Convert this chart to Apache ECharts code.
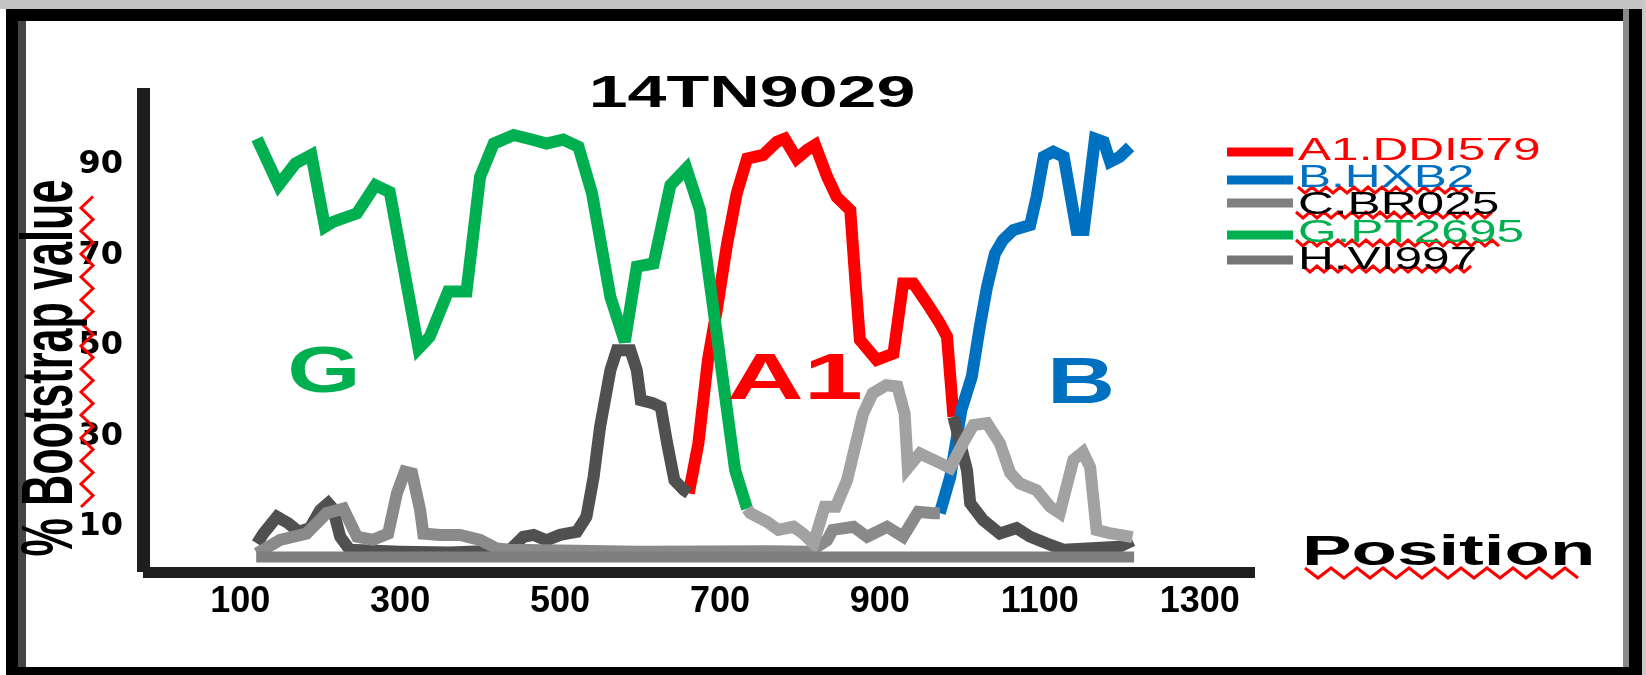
<!DOCTYPE html>
<html><head><meta charset="utf-8">
<script src="https://cdn.jsdelivr.net/npm/echarts@6/dist/echarts.min.js"></script>
<style>html,body{margin:0;padding:0;background:#fff}#c{width:1646px;height:675px}</style>
</head><body><div id="c"></div>
<script>
// ---- data (position along genome, % bootstrap value) ----
const chartTitle = '14TN9029';
const xAxisName = 'Position';
const yAxisName = '% Bootstrap value';
const xTickValues = [100, 300, 500, 700, 900, 1100, 1300];
const yTickValues = [10, 30, 50, 70, 90];
const legendNames = ['A1.DDI579', 'B.HXB2', 'C.BR025', 'G.PT2695', 'H.VI997'];
const regionLabels = ['G', 'A1', 'B'];

const a1Values = [[661,17.4],[673,28.4],[685,46.9],[696,57.9],[709,72.6],[721,83.7],[734,91.4],[754,92.2],[771,95.1],[781,95.8],[796,91.4],[809,93.3],[819,94.4],[834,87.4],[846,82.9],[863,80],[869,65.3],[875,51.3],[896,46.9],[917,48.3],[929,63.8],[942,63.8],[959,59.4],[975,55],[984,52],[988,43.2],[992,34.3]];
const bValues = [[975,13],[988,21],[1002,35.8],[1015,43.2],[1025,54.2],[1034,63],[1044,70.4],[1054,73.4],[1067,75.6],[1088,76.7],[1096,82.9],[1105,91.8],[1117,92.9],[1130,91.8],[1146,75.6],[1155,75.6],[1169,95.8],[1180,95.1],[1188,90.7],[1200,91.8],[1213,94]];
const gValues = [[121,95.8],[148,85.5],[169,90.3],[189,92.2],[206,76.3],[216,77.4],[246,79.3],[269,85.5],[287,84],[323,49.4],[337,52],[360,62],[383,62],[400,87.4],[417,94.7],[442,96.6],[467,95.5],[483,94.7],[504,95.6],[523,94],[540,83.7],[563,60.8],[581,50.9],[596,67.5],[617,68.2],[638,85.5],[658,89.2],[675,80],[692,57.9],[706,39.5],[719,22.5],[734,14]];
const cValuesLeft = [[121,6.3],[129,8.5],[146,12.2],[160,10.8],[173,8.9],[187,9.7],[200,13.7],[210,15.2],[216,14],[225,7.8],[237,4.9],[300,4.5],[362,4.3],[437,4.8],[454,7.8],[467,8.2],[483,7],[500,8.2],[521,8.9],[533,12.2],[542,21],[550,32],[563,44.6],[571,49],[588,49],[596,44.6],[601,38],[616,37.3],[626,36.5],[634,28.4],[643,20.3],[655,18.1],[661,17.4]];
const cValuesRight = [[992,34.3],[1009,22.5],[1013,15.2],[1029,11.5],[1050,8.5],[1071,9.7],[1088,7.8],[1109,6.3],[1130,4.9],[1200,5.6],[1216,7]];
const hValues = [[734,14],[738,13],[759,11.1],[773,9.3],[792,10],[804,8.5],[817,6.3],[831,14.4],[845,14.4],[859,20.3],[867,26.2],[879,35],[891,39.5],[908,41.3],[922,41],[931,35],[935,23],[950,26.2],[967,24.8],[988,23],[1004,28.5],[1017,32.5],[1034,32.9],[1050,28.5],[1063,21.9],[1075,19.6],[1096,18.1],[1113,14.4],[1125,13],[1142,24.8],[1154,26.5],[1163,23.2],[1171,9.3],[1187,8.6],[1216,7.7]];
const otherValues = [[121,4.1],[150,7.1],[183,8.5],[208,13],[229,14],[246,7.8],[266,7.1],[285,8.5],[296,17.4],[306,22.2],[315,21.8],[325,13.7],[329,8.5],[350,8.2],[375,8.2],[400,7.1],[421,5.2],[437,4.9],[600,4.5],[760,4.6],[812,4.5],[834,7],[841,9.3],[867,10],[884,7.8],[909,10],[929,7.8],[948,13.3],[967,13],[975,13]];
const baselineValues = [[120,3.3],[1218,3.3]];

// ---- styling ----
const COL = {a1:'#ff0000', b:'#0070c0', g:'#00b050', c:'#505050', h:'#a2a2a2', other:'#8a8a8a', base:'#7f7f7f'};
const FONT = '"Liberation Sans", Arial, sans-serif';
const LW = 12;

function lineSeries(name, data, color, width) {
  return {type:'line', name, data, symbol:'none', showSymbol:false, silent:true,
    lineStyle:{color, width, join:'miter', miterLimit:3}, itemStyle:{color}, animation:false, connectNulls:false};
}

function zigzag(x0, y0, x1, y1, amp, period) {
  const len = Math.hypot(x1 - x0, y1 - y0);
  const ux = (x1 - x0) / len, uy = (y1 - y0) / len, nx = -uy, ny = ux;
  const pts = [];
  let i = 0;
  for (let d = 0; d <= len; d += period / 2, i++) {
    const s = (i % 2 ? 1 : -1) * amp / 2;
    pts.push([x0 + ux * d + nx * s, y0 + uy * d + ny * s]);
  }
  return pts;
}
function squiggle(x0, y0, x1, y1, amp, period) {
  return {type:'polyline', silent:true, shape:{points:zigzag(x0, y0, x1, y1, amp, period)},
    style:{stroke:'#ff0000', lineWidth:3, fill:null}, z:50};
}
function txt(text, x, y, size, weight, color, align, sx, sy, rot, family) {
  return {type:'text', x, y, scaleX:sx || 1, scaleY:sy || 1, rotation:rot || 0, silent:true, z:60,
    style:{text, fill:color, fontSize:size, fontWeight:weight, fontFamily:family || FONT,
      textAlign:align, align:align, textVerticalAlign:'middle', verticalAlign:'middle'}};
}
function rect(x, y, w, h, fill) {
  return {type:'rect', silent:true, z:40, shape:{x, y, width:w, height:h}, style:{fill}};
}

const legendColors = [COL.a1, COL.b, '#808080', COL.g, '#767676'];
const legendTextColors = [COL.a1, COL.b, '#000', COL.g, '#000'];
const legendY = [151, 178, 205, 233, 260];
const legendLineY = [152, 180, 203, 235, 260];

const graphics = [
  // frame
  rect(0, 0, 1646, 9, '#c4c4c4'),
  rect(6, 9, 1636, 12, '#000'),
  rect(6, 9, 12, 666, '#000'),
  rect(18, 21, 8, 654, '#444'),
  rect(1623, 9, 6, 666, '#888'),
  rect(1629, 9, 13, 666, '#000'),
  rect(1642, 0, 4, 675, '#c8c8c8'),
  rect(6, 667, 1636, 8, '#000'),
  // titles
  txt(chartTitle, 752, 95, 44, 'bold', '#000', 'center', 1.59),
  txt(xAxisName, 1302, 553, 43, 'bold', '#000', 'left', 1.73),
  txt(yAxisName, 52, 368, 45, 'bold', '#000', 'center', 0.96, 1.6, Math.PI / 2),
  // region labels
  txt(regionLabels[0], 324, 374, 65, 'bold', COL.g, 'center', 1.45),
  txt(regionLabels[1], 795, 381, 64, 'bold', COL.a1, 'center', 1.66),
  txt(regionLabels[2], 1081, 385, 65, 'bold', COL.b, 'center', 1.45),
  // squiggles
  squiggle(87, 507, 87, 187, 12, 23),
  squiggle(1305, 573, 1590, 573, 10, 26),
  squiggle(1298, 190, 1477, 190, 6, 14),
  squiggle(1296, 215, 1493, 215, 6, 14),
  squiggle(1296, 243, 1505, 243, 6, 14),
  squiggle(1303, 269, 1473, 269, 6, 14),
];
legendNames.forEach((n, i) => {
  graphics.push(rect(1227, legendLineY[i] - 4.5, 66, 9, legendColors[i]));
  graphics.push(txt(n, 1298, legendY[i], 31, 'normal', legendTextColors[i], 'left', 1.6));
});

const chart = echarts.init(document.getElementById('c'), null, {renderer:'canvas'});
chart.setOption({
  backgroundColor:'#ffffff',
  animation:false,
  grid:{left:143, right:391, top:88, bottom:103, containLabel:false},
  xAxis:{type:'value', min:-21.6, max:1369.2,
    axisLine:{show:true, onZero:false, lineStyle:{color:'#1e1e1e', width:11, cap:'butt'}},
    axisTick:{show:false}, splitLine:{show:false},
    axisLabel:{customValues:xTickValues, formatter:(v) => String(v), margin:12, color:'#000', fontSize:36, fontWeight:'bold', fontFamily:FONT}},
  yAxis:{type:'value', min:0, max:107,
    axisLine:{show:true, onZero:false, lineStyle:{color:'#1e1e1e', width:13, cap:'butt'}},
    axisTick:{show:false}, splitLine:{show:false},
    axisLabel:{customValues:yTickValues, formatter:(v) => String(v), margin:20, color:'#000', fontSize:32, fontWeight:'bold', fontFamily:'"DejaVu Sans", sans-serif'}},
  series:[
    lineSeries(legendNames[0], a1Values, COL.a1, LW),
    lineSeries(legendNames[3], gValues, COL.g, LW),
    lineSeries(legendNames[1], bValues, COL.b, LW),
    lineSeries(legendNames[2], cValuesLeft, COL.c, LW),
    lineSeries(legendNames[2], cValuesRight, COL.c, LW),
    lineSeries('other', otherValues, COL.other, LW),
    lineSeries(legendNames[4], hValues, COL.h, LW),
    lineSeries('baseline', baselineValues, COL.base, 11),
  ],
  graphic:{elements:graphics}
});
</script></body></html>
